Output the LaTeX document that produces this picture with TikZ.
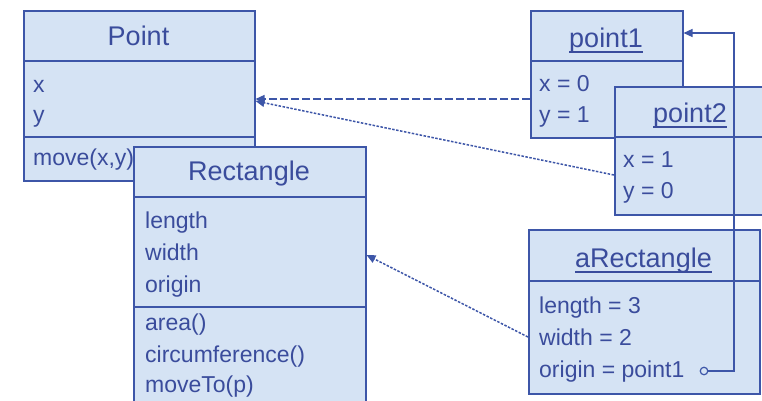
\documentclass[tikz,border=0pt]{standalone}
\usepackage{fontspec}
\setmainfont{Liberation Sans}
\usetikzlibrary{arrows.meta}
\definecolor{boxfill}{HTML}{D5E3F4}
\definecolor{boxline}{HTML}{3D56A8}
\definecolor{txt}{HTML}{3A4C9C}
\begin{document}
\begin{tikzpicture}[x=1pt,y=-1pt,
  umlbox/.style={draw=boxline, fill=boxfill, line width=1.5pt, anchor=north west, inner sep=0pt},
  divider/.style={draw=boxline, line width=1.5pt},
  ttl/.style={anchor=base, text=txt, font=\fontsize{27}{30}\selectfont, inner sep=0pt},
  attr/.style={anchor=base west, text=txt, font=\fontsize{23}{28}\selectfont, inner sep=0pt},
  uline/.style={draw=txt, line width=1.2pt},
  tip/.style={-{Triangle[length=9pt,width=8pt]}},
  link/.style={draw=boxline, line width=1.3pt},
]
\useasboundingbox (0,0) rectangle (762,400);
\clip (0,0) rectangle (762,400);

% Point class
\node[umlbox, minimum width=231pt, minimum height=170pt] (pointbox) at (23,10) {};
\draw[divider] (pointbox.west |- 0,61) -- (pointbox.east |- 0,61);
\draw[divider] (pointbox.west |- 0,137) -- (pointbox.east |- 0,137);
\node[ttl] (pointT) at (138.5,45) {Point};
\node[attr] (px) at (33,92) {x};
\node[attr] (py) at (33,122) {y};
\node[attr] (pm) at (33,165) {move(x,y)};

% Rectangle class
\node[umlbox, minimum width=232pt, minimum height=270pt] (rectbox) at (133,146) {};
\draw[divider] (rectbox.west |- 0,197) -- (rectbox.east |- 0,197);
\draw[divider] (rectbox.west |- 0,307) -- (rectbox.east |- 0,307);
\node[ttl] (rectT) at (249,180) {Rectangle};
\node[attr] (rl) at (145,228) {length};
\node[attr] (rw) at (145,260) {width};
\node[attr] (ro) at (145,292) {origin};
\node[attr] (ra) at (145,330) {area()};
\node[attr] (rc) at (145,362) {circumference()};
\node[attr] (rm) at (145,392) {moveTo(p)};

% point1 object
\node[umlbox, minimum width=152pt, minimum height=127pt] (p1box) at (530,10) {};
\draw[divider] (p1box.west |- 0,61) -- (p1box.east |- 0,61);
\node[ttl] (p1T) at (606,47) {point1};
\draw[uline] ([yshift=-5pt]p1T.base west) -- ([yshift=-5pt]p1T.base east);
\node[attr] (p1x) at (539,91) {x = 0};
\node[attr] (p1y) at (539,122) {y = 1};

% point2 object
\node[umlbox, minimum width=152pt, minimum height=128pt] (p2box) at (614,86) {};
\draw[divider] (p2box.west |- 0,137) -- (p2box.east |- 0,137);
\node[ttl] (p2T) at (690,122) {point2};
\draw[uline] ([yshift=-5pt]p2T.base west) -- ([yshift=-5pt]p2T.base east);
\node[attr] (p2x) at (623,167) {x = 1};
\node[attr] (p2y) at (623,198) {y = 0};

% aRectangle object
\node[umlbox, minimum width=231pt, minimum height=164pt] (arbox) at (528,229) {};
\draw[divider] (arbox.west |- 0,281) -- (arbox.east |- 0,281);
\node[ttl] (arT) at (643.5,267) {aRectangle};
\draw[uline] ([yshift=-5pt]arT.base west) -- ([yshift=-5pt]arT.base east);
\node[attr] (arl) at (539,313) {length = 3};
\node[attr] (arw) at (539,345) {width = 2};
\node[attr] (aro) at (539,377) {origin = point1};

% connectors
\draw[link, tip, dash pattern=on 8pt off 3pt] (p1box.west |- 0,99) -- (pointbox.east |- 0,99);
\draw[link, tip, line width=1.5pt, dash pattern=on 2.5pt off 1.5pt] (p2box.west |- 0,175) -- (pointbox.east |- 0,101);
\draw[link, tip, line width=1.5pt, dash pattern=on 2.5pt off 1.5pt] (arbox.west |- 0,337) -- (rectbox.east |- 0,255);
\node[circle, draw=boxline, fill=boxfill, line width=1.2pt, inner sep=0pt, minimum size=7.5pt] (circ) at (704,371) {};
\coordinate (bend) at (734,371);
\draw[link, tip] (circ.east) -- (bend) |- (p1box.east |- 0,33);
\end{tikzpicture}
\end{document}
